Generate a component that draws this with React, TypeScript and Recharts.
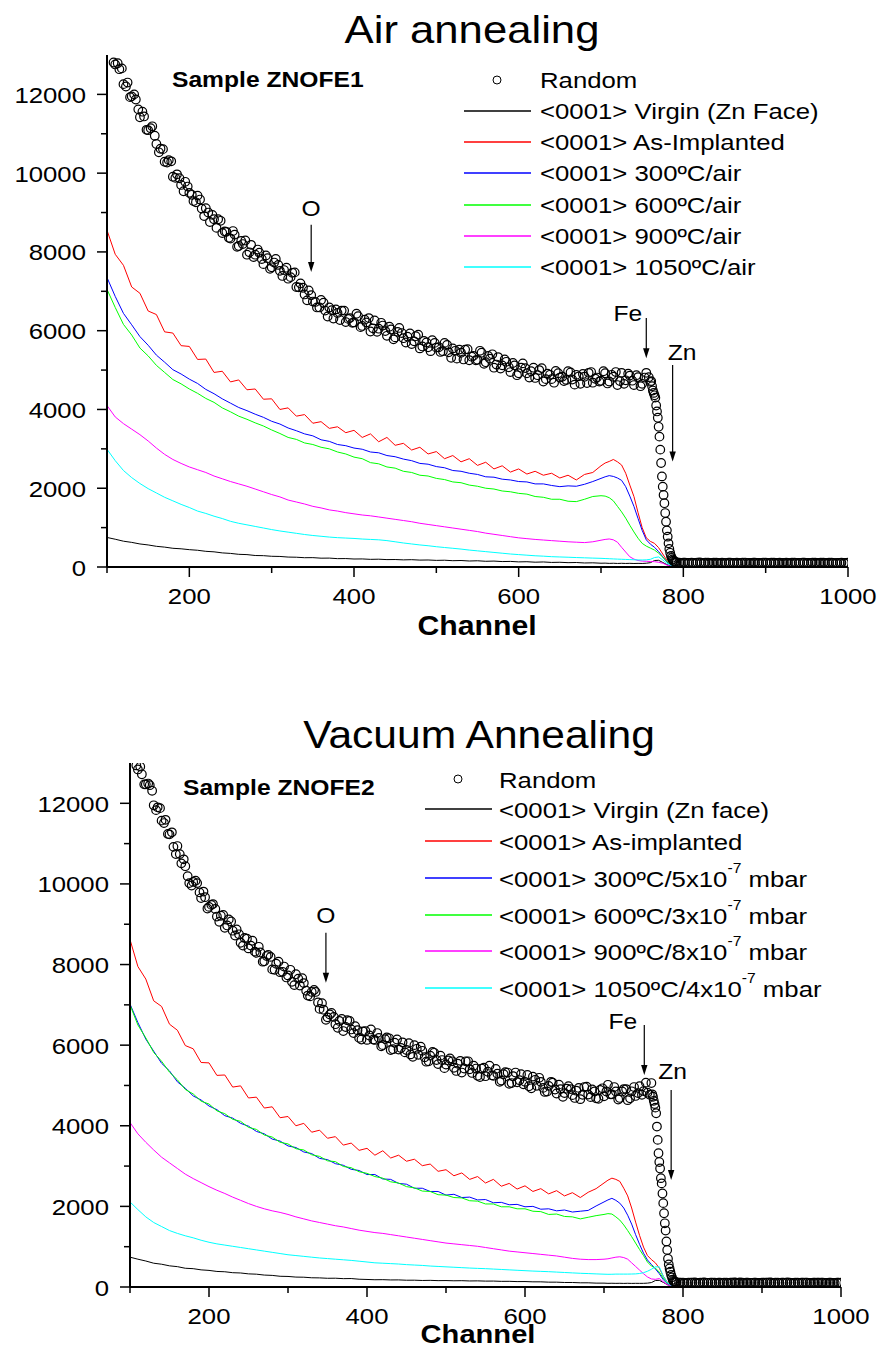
import React from "react";
import { ComposedChart, Line, Scatter, XAxis, YAxis, ReferenceLine } from "recharts";

const FONT = '"Liberation Sans", Arial, Helvetica, sans-serif';
const SX = 1.12; // the original figure is stretched a little sideways

// channels for the aligned spectra
const lineCh = [
  100, 110, 120, 130, 140, 150, 160, 170, 180, 190,
  200, 210, 220, 230, 240, 250, 260, 270, 280, 290,
  300, 310, 320, 330, 340, 350, 360, 370, 380, 390,
  400, 410, 420, 430, 440, 450, 460, 470, 480, 490,
  500, 510, 520, 530, 540, 550, 560, 570, 580, 590,
  600, 610, 620, 630, 640, 650, 660, 670, 680, 690,
  700, 705, 710, 715, 720, 725, 730, 735, 740, 745,
  750, 755, 760, 765, 770, 775, 780, 785, 790, 795,
  800, 850, 900, 950, 1000,
];

// ---- Air annealing (ZNOFE1) ----
const airVirgin = [
  750, 705, 655, 625, 585, 560, 525, 505, 475, 462,
  440, 425, 398, 385, 358, 345, 322, 315, 292, 288,
  272, 268, 252, 248, 236, 238, 224, 226, 212, 214,
  203, 205, 194, 198, 188, 190, 181, 186, 175, 178,
  168, 172, 160, 165, 152, 158, 145, 150, 138, 142,
  130, 134, 122, 128, 116, 120, 110, 114, 102, 106,
  96, 98, 92, 95, 90, 94, 90, 93, 89, 92,
  90, 96, 110, 165, 170, 115, 60, 25, 15, 12,
  10, 10, 10, 10, 10,
];
const airAsImpl = [
  8550, 7940, 7660, 7110, 6950, 6500, 6410, 5970, 5940, 5620,
  5600, 5270, 5280, 4940, 4970, 4700, 4750, 4500, 4520, 4260,
  4270, 4000, 4040, 3830, 3870, 3650, 3690, 3520, 3560, 3410,
  3470, 3290, 3380, 3180, 3290, 3090, 3140, 2970, 3040, 2870,
  2930, 2750, 2830, 2670, 2750, 2580, 2660, 2490, 2570, 2410,
  2490, 2360, 2430, 2330, 2380, 2260, 2330, 2210, 2350, 2400,
  2570, 2640, 2680, 2730, 2670, 2590, 2380, 2080, 1790, 1380,
  1000, 740, 650, 600, 490, 330, 170, 60, 25, 15,
  12, 10, 10, 10, 10,
];
const air300 = [
  7350, 6870, 6440, 6150, 5850, 5630, 5380, 5200, 5010, 4900,
  4770, 4660, 4510, 4400, 4270, 4160, 4050, 3970, 3880, 3800,
  3700, 3630, 3530, 3460, 3380, 3330, 3230, 3190, 3110, 3080,
  3020, 2990, 2920, 2900, 2830, 2800, 2740, 2700, 2630, 2610,
  2550, 2520, 2450, 2430, 2380, 2350, 2290, 2280, 2230, 2210,
  2170, 2160, 2110, 2110, 2070, 2040, 2060, 2050, 2100, 2170,
  2250, 2290, 2320, 2300, 2260, 2200, 2040, 1800, 1540, 1230,
  930, 690, 580, 500, 390, 260, 130, 45, 20, 14,
  12, 10, 10, 10, 10,
];
const air600 = [
  7050, 6590, 6160, 5890, 5560, 5360, 5120, 4940, 4760, 4650,
  4520, 4410, 4280, 4180, 4040, 3940, 3830, 3750, 3660, 3580,
  3480, 3390, 3290, 3240, 3150, 3110, 3040, 3000, 2920, 2870,
  2790, 2750, 2650, 2620, 2540, 2510, 2430, 2400, 2330, 2310,
  2250, 2220, 2160, 2140, 2080, 2050, 2000, 1980, 1930, 1910,
  1870, 1850, 1790, 1770, 1720, 1720, 1670, 1660, 1720, 1790,
  1810, 1800, 1760, 1680, 1540, 1400, 1240, 1060, 890, 730,
  600, 530, 480, 430, 350, 250, 140, 50, 18, 12,
  10, 10, 10, 10, 10,
];
const air900 = [
  4100, 3810, 3640, 3500, 3360, 3200, 3020, 2860, 2730, 2630,
  2540, 2470, 2400, 2310, 2240, 2170, 2110, 2050, 1980, 1910,
  1840, 1780, 1700, 1650, 1600, 1540, 1500, 1450, 1420, 1380,
  1350, 1320, 1300, 1270, 1240, 1210, 1180, 1150, 1110, 1080,
  1050, 1020, 990, 960, 930, 900, 860, 830, 800, 770,
  740, 720, 700, 685, 670, 655, 640, 630, 620, 640,
  680, 700, 712, 690, 630, 500, 380, 260, 200, 165,
  150, 145, 140, 135, 120, 95, 50, 20, 12, 10,
  10, 10, 10, 10, 10,
];
const air1050 = [
  2990, 2700, 2450, 2270, 2120, 1990, 1880, 1770, 1680, 1590,
  1510, 1420, 1360, 1290, 1230, 1160, 1110, 1070, 1030, 990,
  950, 915, 885, 855, 825, 800, 780, 760, 745, 735,
  725, 710, 700, 690, 670, 640, 610, 585, 560, 540,
  515, 495, 475, 455, 430, 410, 390, 370, 350, 330,
  315, 300, 285, 275, 262, 255, 248, 240, 233, 226,
  220, 215, 210, 205, 200, 196, 192, 188, 184, 180,
  178, 182, 195, 240, 255, 180, 95, 45, 20, 15,
  14, 13, 13, 13, 13,
];

// ---- Vacuum annealing (ZNOFE2) ----
const vacVirgin = [
  740, 690, 645, 590, 565, 525, 505, 465, 455, 425,
  412, 386, 378, 355, 348, 326, 318, 296, 288, 266,
  262, 246, 243, 229, 226, 216, 218, 207, 210, 193,
  187, 180, 182, 175, 176, 168, 169, 162, 165, 158,
  160, 154, 157, 150, 152, 146, 147, 140, 141, 134,
  135, 128, 128, 120, 120, 112, 112, 104, 104, 96,
  96, 91, 93, 90, 92, 89, 92, 89, 91, 90,
  91, 96, 110, 160, 165, 115, 60, 30, 15, 12,
  10, 10, 10, 10, 10,
];
const vacAsImpl = [
  8620, 7950, 7640, 7100, 6960, 6520, 6370, 5990, 5910, 5570,
  5560, 5250, 5260, 4960, 4990, 4690, 4710, 4440, 4470, 4200,
  4230, 4000, 4060, 3840, 3890, 3690, 3730, 3520, 3570, 3390,
  3440, 3270, 3380, 3200, 3270, 3120, 3170, 3010, 3050, 2870,
  2910, 2760, 2830, 2670, 2740, 2580, 2670, 2500, 2570, 2430,
  2510, 2370, 2440, 2310, 2390, 2260, 2340, 2220, 2350, 2440,
  2580, 2650, 2700, 2670, 2620, 2450, 2260, 1960, 1610, 1280,
  990, 780, 680, 600, 470, 270, 120, 50, 20, 14,
  12, 10, 10, 10, 10,
];
const vac300 = [
  7020, 6560, 6150, 5850, 5550, 5360, 5090, 4930, 4740, 4640,
  4490, 4400, 4250, 4190, 4060, 3990, 3860, 3800, 3670, 3620,
  3500, 3460, 3350, 3310, 3190, 3160, 3060, 3020, 2920, 2890,
  2790, 2790, 2680, 2670, 2570, 2550, 2450, 2450, 2370, 2370,
  2280, 2300, 2220, 2230, 2160, 2170, 2090, 2100, 2040, 2050,
  1990, 2000, 1930, 1940, 1890, 1910, 1860, 1880, 1900, 2010,
  2110, 2160, 2200, 2150, 2080, 1960, 1780, 1560, 1300, 1060,
  840, 670, 560, 450, 330, 180, 90, 45, 18, 12,
  10, 10, 10, 10, 10,
];
const vac600 = [
  7000, 6500, 6180, 5820, 5600, 5330, 5140, 4900, 4790, 4610,
  4540, 4370, 4300, 4160, 4110, 3960, 3910, 3770, 3720, 3590,
  3550, 3430, 3400, 3280, 3240, 3130, 3110, 2990, 2960, 2860,
  2820, 2740, 2700, 2610, 2580, 2490, 2460, 2380, 2370, 2290,
  2280, 2220, 2210, 2140, 2130, 2060, 2060, 1990, 1990, 1940,
  1940, 1880, 1870, 1800, 1810, 1750, 1740, 1690, 1730, 1770,
  1800, 1820, 1810, 1740, 1660, 1540, 1400, 1250, 1090, 930,
  780, 620, 520, 470, 370, 220, 100, 40, 16, 12,
  10, 10, 10, 10, 10,
];
const vac900 = [
  4080, 3800, 3590, 3400, 3220, 3080, 2940, 2800, 2690, 2590,
  2490, 2400, 2320, 2230, 2150, 2070, 2000, 1940, 1890, 1850,
  1800, 1740, 1690, 1640, 1600, 1560, 1520, 1490, 1450, 1410,
  1380, 1350, 1330, 1300, 1270, 1240, 1210, 1180, 1150, 1120,
  1090, 1070, 1050, 1030, 1010, 980, 950, 920, 890, 870,
  850, 830, 810, 790, 770, 740, 710, 690, 680, 680,
  690, 700, 720, 740, 750, 730, 690, 600, 510, 420,
  330, 250, 200, 190, 210, 130, 60, 25, 12, 10,
  10, 10, 10, 10, 10,
];
const vac1050 = [
  2110, 1920, 1740, 1600, 1500, 1400, 1330, 1270, 1220, 1160,
  1110, 1070, 1040, 1010, 980, 950, 920, 890, 860, 830,
  800, 780, 760, 740, 720, 705, 690, 675, 660, 640,
  620, 600, 590, 580, 570, 555, 545, 535, 520, 510,
  500, 490, 480, 470, 462, 455, 445, 435, 425, 415,
  405, 395, 388, 380, 370, 360, 350, 340, 333, 325,
  318, 315, 316, 320, 320, 320, 320, 322, 325, 335,
  355, 390, 440, 500, 500, 270, 110, 40, 18, 14,
  13, 13, 13, 13, 13,
];

// random spectra (open circles), first channel set
const randChA = [
  105, 110, 115, 120, 125, 130, 135, 140, 145, 150,
  155, 160, 165, 170, 175, 180, 185, 190, 195, 200,
  205, 210, 215, 220, 225, 230, 235, 240, 245, 250,
  255, 260, 265, 270, 275, 280, 285, 290, 295, 300,
  305, 310, 315, 320, 325, 330, 335, 340, 345, 350,
  355, 360, 365, 370, 375, 380, 385, 390, 395, 400,
  405, 410, 415, 420, 425, 430, 435, 440, 445, 450,
  455, 460, 465, 470, 475, 480, 485, 490, 495, 500,
  505, 510, 515, 520, 525, 530, 535, 540, 545, 550,
  555, 560, 565, 570, 575, 580, 585, 590, 595, 600,
  605, 610, 615, 620, 625, 630, 635, 640, 645, 650,
  655, 660, 665, 670, 675, 680, 685, 690, 695, 700,
  705, 710, 715, 720, 725, 730, 735, 740, 745, 750,
  755, 760,
  761, 762, 763, 764, 765, 766, 767, 768, 769, 770,
  771, 772, 773, 774, 775, 776, 777, 778, 779, 780,
  781, 782, 783, 784, 785, 786, 787, 788, 789, 790,
  791, 792,
  795, 800, 805, 810, 815, 820, 825, 830, 835, 840,
  845, 850, 855, 860, 865, 870, 875, 880, 885, 890,
  895, 900, 905, 910, 915, 920, 925, 930, 935, 940,
  945, 950, 955, 960, 965, 970, 975, 980, 985, 990,
  995, 1000,
];
// second channel set, in between the first
const randChB = [
  108, 113, 118, 123, 128, 133, 138, 143, 148, 153,
  158, 163, 168, 173, 178, 183, 188, 193, 198, 203,
  208, 213, 218, 223, 228, 233, 238, 243, 248, 253,
  258, 263, 268, 273, 278, 283, 288, 293, 298, 303,
  308, 313, 318, 323, 328, 333, 338, 343, 348, 353,
  358, 363, 368, 373, 378, 383, 388, 393, 398, 403,
  408, 413, 418, 423, 428, 433, 438, 443, 448, 453,
  458, 463, 468, 473, 478, 483, 488, 493, 498, 503,
  508, 513, 518, 523, 528, 533, 538, 543, 548, 553,
  558, 563, 568, 573, 578, 583, 588, 593, 598, 603,
  608, 613, 618, 623, 628, 633, 638, 643, 648, 653,
  658, 663, 668, 673, 678, 683, 688, 693, 698, 703,
  708, 713, 718, 723, 728, 733, 738, 743, 748, 753,
  758,
  797, 802, 807, 812, 817, 822, 827, 832, 837, 842,
  847, 852, 857, 862, 867, 872, 877, 882, 887, 892,
  897, 902, 907, 912, 917, 922, 927, 932, 937, 942,
  947, 952, 957, 962, 967, 972, 977, 982, 987, 992,
  997,
];
const airRandomA = [
  13220, 12760, 12640, 12260, 12300, 11950, 11870, 11420, 11440, 11090,
  11190, 10740, 10620, 10290, 10330, 9910, 9970, 9700, 9780, 9500,
  9290, 9430, 9100, 9110, 8760, 8830, 8830, 8480, 8510, 8340,
  8440, 8150, 8200, 7930, 8180, 7930, 7980, 7690, 7840, 7610,
  7820, 7520, 7540, 7320, 7470, 7110, 7200, 6920, 7020, 6740,
  6590, 6780, 6510, 6590, 6310, 6450, 6510, 6220, 6320, 6210,
  6370, 6120, 6210, 5980, 6260, 6050, 6130, 5870, 6030, 5830,
  6070, 5810, 5850, 5660, 5860, 5550, 5740, 5580, 5760, 5570,
  5460, 5690, 5450, 5550, 5290, 5440, 5520, 5250, 5360, 5260,
  5440, 5200, 5290, 5060, 5330, 5120, 5210, 4950, 5120, 4920,
  5170, 4920, 4970, 4800, 5000, 4710, 4910, 4770, 4980, 4810,
  4720, 4970, 4760, 4880, 4650, 4830, 4930, 4680, 4810, 4730,
  4920, 4710, 4830, 4620, 4930, 4740, 4860, 4620, 4820, 4650,
  4930, 4700,
  4720, 4590, 4480, 4420, 4360, 4300, 4100, 3950, 3790, 3560,
  3310, 2980, 2640, 2300, 2040, 1830, 1620, 1370, 1150, 930,
  770, 600, 460, 360, 280, 230, 190, 160, 140, 130,
  120, 115,
  108, 112, 104, 110, 101, 115, 106, 109, 103, 112,
  100, 107, 111, 104, 108, 102, 113, 105, 109, 101,
  106, 110, 103, 108, 104, 107, 112, 100, 109, 105,
  111, 103, 106, 110, 102, 108, 105, 111, 100, 107,
  104, 109,
];
const airRandomB = [
  12810, 12790, 12660, 12200, 11930, 12000, 11620, 11560, 11100, 11140,
  10950, 10530, 10610, 10270, 10300, 9880, 9870, 9540, 9660, 9450,
  9260, 9330, 8910, 9000, 8940, 8610, 8790, 8520, 8360, 8530,
  8130, 8280, 8290, 7990, 7870, 8060, 7820, 7910, 7570, 7730,
  7670, 7390, 7600, 7360, 7480, 7100, 7090, 6770, 6900, 6730,
  6590, 6710, 6360, 6520, 6540, 6270, 6510, 6300, 6200, 6430,
  6090, 6280, 6320, 6060, 5970, 6200, 5990, 6100, 5780, 5970,
  5940, 5700, 5930, 5730, 5900, 5600, 5700, 5480, 5690, 5580,
  5480, 5640, 5310, 5490, 5520, 5270, 5530, 5340, 5250, 5490,
  5160, 5360, 5400, 5140, 5040, 5270, 5070, 5180, 4870, 5060,
  5050, 4810, 5060, 4870, 5050, 4770, 4880, 4680, 4920, 4830,
  4750, 4940, 4630, 4840, 4900, 4670, 4950, 4780, 4710, 4970,
  4660, 4880, 4950, 4720, 4650, 4910, 4730, 4870, 4590, 4810,
  4820,
  104, 110, 107, 101, 113, 106, 109, 102, 111, 105,
  108, 100, 112, 106, 103, 110, 107, 104, 109, 101,
  113, 105, 108, 102, 110, 106, 103, 111, 104, 107,
  109, 101, 112, 105, 108, 103, 110, 106, 102, 109,
  105,
];
const vacRandomA = [
  13320, 12840, 12720, 12470, 12450, 11950, 11900, 11570, 11590, 11230,
  10920, 10940, 10510, 10440, 10020, 10050, 10020, 9650, 9670, 9430,
  9500, 9190, 9210, 8910, 9120, 8840, 8870, 8540, 8660, 8400,
  8590, 8290, 8300, 8080, 8240, 7880, 8020, 7810, 7950, 7730,
  7570, 7760, 7480, 7540, 7230, 7320, 7320, 6900, 6880, 6690,
  6800, 6520, 6600, 6350, 6620, 6390, 6470, 6180, 6340, 6130,
  6390, 6130, 6180, 6000, 6190, 5880, 6060, 5890, 6070, 5880,
  5770, 6000, 5760, 5860, 5590, 5740, 5810, 5530, 5630, 5520,
  5670, 5440, 5540, 5320, 5600, 5400, 5490, 5240, 5420, 5230,
  5490, 5240, 5290, 5120, 5330, 5040, 5230, 5080, 5280, 5090,
  4980, 5220, 4990, 5090, 4840, 4990, 5070, 4800, 4910, 4810,
  4980, 4760, 4870, 4660, 4960, 4775, 4900, 4680, 4890, 4730,
  5016, 4780, 4850, 4690, 4910, 4635, 4855, 4740, 4980, 4860,
  4820, 5060,
  4780, 4720, 4620, 4540, 4450, 4310, 3980, 3650, 3320, 3100,
  2940, 2700, 2570, 2320, 2080, 1830, 1580, 1400, 1130, 920,
  700, 560, 460, 380, 300, 240, 180, 150, 135, 125,
  118, 112,
  106, 110, 103, 109, 112, 101, 107, 104, 111, 105,
  108, 102, 110, 106, 113, 100, 107, 109, 104, 111,
  103, 108, 105, 112, 101, 107, 110, 104, 108, 102,
  109, 106, 111, 103, 107, 105, 110, 101, 108, 104,
  106, 109,
];
const vacRandomB = [
  12940, 12910, 12470, 12490, 12310, 11830, 11880, 11510, 11240, 11280,
  10740, 10740, 10610, 10190, 9960, 10080, 9790, 9810, 9390, 9480,
  9380, 9060, 9230, 8970, 9070, 8720, 8750, 8470, 8640, 8470,
  8320, 8440, 8070, 8210, 8190, 7870, 8070, 7820, 7680, 7870,
  7490, 7650, 7660, 7350, 7210, 7370, 7060, 7040, 6630, 6760,
  6700, 6430, 6650, 6450, 6600, 6300, 6370, 6140, 6350, 6240,
  6140, 6300, 5970, 6150, 6170, 5900, 6140, 5930, 5820, 6050,
  5710, 5910, 5960, 5700, 5600, 5830, 5630, 5740, 5430, 5620,
  5600, 5360, 5610, 5420, 5600, 5310, 5420, 5210, 5440, 5340,
  5250, 5410, 5090, 5280, 5320, 5060, 5320, 5130, 5030, 5260,
  4930, 5140, 5190, 4940, 4850, 5090, 4900, 5020, 4720, 4920,
  4910, 4690, 4940, 4770, 4970, 4710, 4850, 4670, 4930, 4850,
  4780, 4960, 4650, 4850, 4910, 4680, 4960, 4810, 4770, 5070,
  4770,
  109, 103, 111, 106, 100, 108, 112, 104, 107, 102,
  110, 105, 101, 109, 106, 113, 103, 108, 104, 111,
  102, 107, 110, 105, 109, 101, 106, 112, 103, 108,
  104, 110, 106, 102, 109, 105, 111, 103, 107, 100,
  108,
];

const xTicks = [100, 200, 300, 400, 500, 600, 700, 800, 900, 1000];
const yTicks = [0, 1000, 2000, 3000, 4000, 5000, 6000, 7000, 8000, 9000, 10000, 11000, 12000];

type Series = { key: string; name: string; sup?: string; tail?: string; color: string; values: number[] };

const airSeries: Series[] = [
  { key: "virgin", name: "<0001> Virgin (Zn Face)", color: "#000000", values: airVirgin },
  { key: "asimpl", name: "<0001> As-Implanted", color: "#ff0000", values: airAsImpl },
  { key: "t300", name: "<0001> 300ºC/air", color: "#0000ff", values: air300 },
  { key: "t600", name: "<0001> 600ºC/air", color: "#00ff00", values: air600 },
  { key: "t900", name: "<0001> 900ºC/air", color: "#ff00ff", values: air900 },
  { key: "t1050", name: "<0001> 1050ºC/air", color: "#00ffff", values: air1050 },
];
const vacSeries: Series[] = [
  { key: "virgin", name: "<0001> Virgin (Zn face)", color: "#000000", values: vacVirgin },
  { key: "asimpl", name: "<0001> As-implanted", color: "#ff0000", values: vacAsImpl },
  { key: "t300", name: "<0001> 300ºC/5x10", sup: "-7", tail: " mbar", color: "#0000ff", values: vac300 },
  { key: "t600", name: "<0001> 600ºC/3x10", sup: "-7", tail: " mbar", color: "#00ff00", values: vac600 },
  { key: "t900", name: "<0001> 900ºC/8x10", sup: "-7", tail: " mbar", color: "#ff00ff", values: vac900 },
  { key: "t1050", name: "<0001> 1050ºC/4x10", sup: "-7", tail: " mbar", color: "#00ffff", values: vac1050 },
];

type Arrow = { label: string; ch: number; from: number; to: number; dx: number; dy: number; anchor: "start" | "middle" | "end" };
const airArrows: Arrow[] = [
  { label: "O", ch: 348, from: 8690, to: 7490, dx: 0, dy: -9, anchor: "middle" },
  { label: "Fe", ch: 755, from: 6320, to: 5300, dx: -4, dy: 3, anchor: "end" },
  { label: "Zn", ch: 787, from: 5130, to: 2680, dx: -5, dy: -5, anchor: "start" },
];
const vacArrows: Arrow[] = [
  { label: "O", ch: 348, from: 8790, to: 7550, dx: 0, dy: -10, anchor: "middle" },
  { label: "Fe", ch: 751, from: 6500, to: 5260, dx: -7, dy: 4, anchor: "end" },
  { label: "Zn", ch: 785, from: 4890, to: 2655, dx: -13, dy: -11, anchor: "start" },
];

function buildRows(series: Series[]) {
  return lineCh.map((ch, i) => {
    const r: Record<string, number> = { ch };
    series.forEach((s) => (r[s.key] = s.values[i]));
    return r;
  });
}

function Txt({ x, y, size, bold, anchor = "start", children }: any) {
  return (
    <text
      transform={`translate(${x},${y}) scale(${SX},1)`}
      fontSize={size}
      fontWeight={bold ? "bold" : "normal"}
      textAnchor={anchor}
      fontFamily={FONT}
      fill="#000"
    >
      {children}
    </text>
  );
}

// axis ticks: all drawn by hand from the tick positions recharts hands over
function LeftTick({ x, y, payload }: any) {
  const major = payload.value % 2000 === 0;
  return (
    <g>
      <line x1={x - (major ? 10 : 6)} x2={x} y1={y} y2={y} stroke="#000" strokeWidth={1.5} />
      {major && (
        <Txt x={x - 21} y={y + 8.5} size={23} anchor="end">
          {payload.value}
        </Txt>
      )}
    </g>
  );
}
function BottomTick({ x, y, payload }: any) {
  const major = payload.value % 200 === 0;
  return (
    <g>
      <line x1={x} x2={x} y1={y} y2={y + (major ? 10 : 6)} stroke="#000" strokeWidth={1.5} />
      {major && (
        <Txt x={x} y={y + 37} size={23} anchor="middle">
          {payload.value}
        </Txt>
      )}
    </g>
  );
}
function TopTick({ x, y }: any) {
  return <line x1={x} x2={x} y1={y} y2={y + 5} stroke="#000" strokeWidth={1.2} />;
}
function RightTick({ x, y }: any) {
  return <line x1={x - 5} x2={x} y1={y} y2={y} stroke="#000" strokeWidth={1.2} />;
}

const ring = (p: any) => <circle cx={p.cx} cy={p.cy} r={4.3} fill="none" stroke="#000" strokeWidth={1.2} />;

const arrowShape = (a: Arrow) => (p: any) => {
  const { x1, y1, x2, y2 } = p;
  return (
    <g>
      <line x1={x1} y1={y1} x2={x2} y2={y2 - 8} stroke="#000" strokeWidth={1.2} />
      <polygon points={`${x2 - 3.2},${y2 - 10} ${x2 + 3.2},${y2 - 10} ${x2},${y2}`} fill="#000" />
      <Txt x={x1 + a.dx} y={y1 + a.dy} size={22} anchor={a.anchor}>
        {a.label}
      </Txt>
    </g>
  );
};

const frame = { stroke: "#000", strokeWidth: 2 };

function RbsPanel({ series, randomA, randomB, arrows, height, margin, yWidth }: any) {
  const data = buildRows(series);
  const randomData = [
    ...randChA.map((ch, i) => ({ ch, v: randomA[i] })),
    ...randChB.map((ch, i) => ({ ch, v: randomB[i] })),
  ];
  return (
    <ComposedChart width={879} height={height} data={data} margin={margin}>
      <XAxis
        dataKey="ch" type="number" domain={[100, 1000]} ticks={xTicks} interval={0}
        allowDataOverflow height={60} tickSize={0} tickMargin={0} tickLine={false}
        axisLine={frame} tick={<BottomTick />}
      />
      <XAxis
        xAxisId="top" orientation="top" type="number" domain={[100, 1000]} ticks={xTicks}
        interval={0} allowDataOverflow mirror height={0} tickSize={0} tickMargin={0}
        tickLine={false} axisLine={frame} tick={<TopTick />}
      />
      <YAxis
        type="number" domain={[0, 13000]} ticks={yTicks} interval={0} allowDataOverflow
        width={yWidth} tickSize={0} tickMargin={0} tickLine={false} axisLine={frame}
        tick={<LeftTick />}
      />
      <YAxis
        yAxisId="right" orientation="right" type="number" domain={[0, 13000]} ticks={yTicks}
        interval={0} allowDataOverflow mirror width={0} tickSize={0} tickMargin={0}
        tickLine={false} axisLine={frame} tick={<RightTick />}
      />
      <Scatter data={randomData} dataKey="v" shape={ring} isAnimationActive={false} />
      {series.map((s: Series) => (
        <Line
          key={s.key} type="linear" dataKey={s.key} stroke={s.color} strokeWidth={1}
          dot={false} activeDot={false} isAnimationActive={false}
        />
      ))}
      {arrows.map((a: Arrow) => (
        <ReferenceLine
          key={a.label}
          segment={[{ x: a.ch, y: a.from }, { x: a.ch, y: a.to }]}
          shape={arrowShape(a)}
        />
      ))}
    </ComposedChart>
  );
}

function LegendBlock({ series, cx, cy, textX, lineX1, lineX2, rows, base, size }: any) {
  return (
    <g>
      <circle cx={cx} cy={cy} r={4} fill="none" stroke="#000" strokeWidth={1} />
      <Txt x={textX} y={cy + base} size={size}>Random</Txt>
      {series.map((s: Series, i: number) => (
        <g key={s.key}>
          <line x1={lineX1} x2={lineX2} y1={rows[i]} y2={rows[i]} stroke={s.color} strokeWidth={1.5} />
          <Txt x={textX} y={rows[i] + base} size={size}>
            {s.name}
            {s.sup && (
              <tspan fontSize={14} dy={-14}>
                {s.sup}
              </tspan>
            )}
            {s.tail && <tspan dy={14}>{s.tail}</tspan>}
          </Txt>
        </g>
      ))}
    </g>
  );
}

export default function App() {
  return (
    <div style={{ position: "absolute", left: 0, top: 0, width: 879, height: 1349, background: "#fff", overflow: "hidden" }}>
      <div style={{ position: "absolute", left: 0, top: 0 }}>
        <RbsPanel
          series={airSeries} randomA={airRandomA} randomB={airRandomB} arrows={airArrows}
          height={660} margin={{ top: 55, right: 31, bottom: 33, left: 0 }} yWidth={107}
        />
      </div>
      <div style={{ position: "absolute", left: 0, top: 700 }}>
        <RbsPanel
          series={vacSeries} randomA={vacRandomA} randomB={vacRandomB} arrows={vacArrows}
          height={649} margin={{ top: 63, right: 38, bottom: 2, left: 0 }} yWidth={130}
        />
      </div>
      <svg width={879} height={1349} style={{ position: "absolute", left: 0, top: 0, pointerEvents: "none" }}>
        <Txt x={472} y={43} size={39} anchor="middle">Air annealing</Txt>
        <Txt x={172} y={87} size={22} bold>Sample ZNOFE1</Txt>
        <LegendBlock
          series={airSeries} cx={497} cy={80} textX={540} lineX1={464} lineX2={531}
          rows={[111, 142, 173, 205, 236, 267]} base={8} size={23}
        />
        <Txt x={477} y={635} size={27} bold anchor="middle">Channel</Txt>

        <Txt x={479} y={748} size={38} anchor="middle">Vacuum Annealing</Txt>
        <Txt x={183} y={795} size={22} bold>Sample ZNOFE2</Txt>
        <LegendBlock
          series={vacSeries} cx={458} cy={779} textX={499} lineX1={425} lineX2={492}
          rows={[809, 841, 878, 915, 951, 988]} base={9} size={23}
        />
        <Txt x={478} y={1343} size={26} bold anchor="middle">Channel</Txt>
      </svg>
    </div>
  );
}
